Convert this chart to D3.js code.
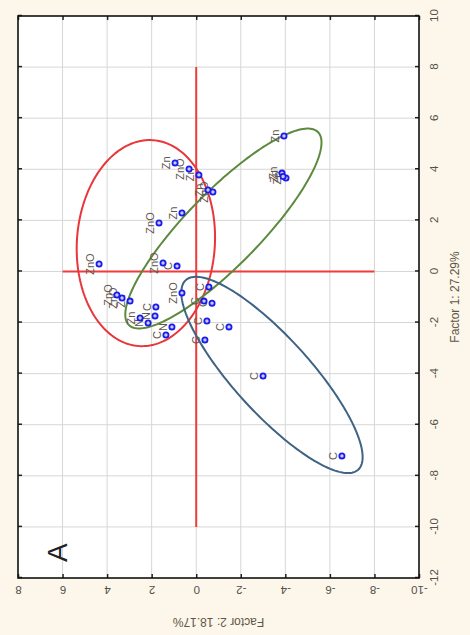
<!DOCTYPE html>
<html>
<head>
<meta charset="utf-8">
<script src="https://cdn.jsdelivr.net/npm/d3@7"></script>
<style>
  html, body { margin: 0; padding: 0; background: #fcf7ea; }
  svg { display: block; }
</style>
</head>
<body>
<svg id="chart" width="470" height="635"></svg>
<script>
// Factor scores of the samples (Factor 1 / Factor 2) and their group labels
const sampleLabels = [
  "Zn", "Zn", "Zn", "Zn",
  "Zn", "ZnO", "Zn", "Zn", "ZnO",
  "Zn", "ZnO", "ZnO", "ZnO", "C", "ZnO",
  "C", "C", "C", "C", "C", "C", "C", "C",
  "ZnO", "Zn", "ZnO", "C", "N", "N", "N", "C", "Zn"
];
const factor1Scores = [
  5.30, 3.85, 3.66, 3.72,
  4.25, 4.01, 3.78, 3.19, 3.11,
  2.29, 1.90, 0.29, 0.33, 0.21, -0.84,
  -0.61, -1.16, -1.24, -1.94, -2.17, -2.68, -4.09, -7.22,
  -1.04, -1.16, -0.92, -1.39, -1.74, -2.02, -2.17, -2.49, -1.82
];
const factor2Scores = [
  -3.94, -3.85, -4.03, -3.90,
  0.95, 0.32, -0.12, -0.53, -0.75,
  0.64, 1.67, 4.36, 1.49, 0.86, 0.64,
  -0.57, -0.35, -0.71, -0.48, -1.47, -0.39, -3.00, -6.54,
  3.33, 2.97, 3.56, 1.81, 1.85, 2.16, 1.09, 1.36, 2.52
];

// Group ellipses: centre and two conjugate semi-axes, in factor units
const ellipseGroups = ["ZnO", "Zn", "C"];
const ellipseCenterF1 = [1.11, 1.68, -4.05];
const ellipseCenterF2 = [2.26, -1.22, -3.40];
const ellipseAxisAF1 = [4.03, 3.78, -3.71];
const ellipseAxisAF2 = [-0.31, -4.24, -3.87];
const ellipseAxisBF1 = [-0.18, -1.01, 1.00];
const ellipseAxisBF2 = [-3.09, -1.19, -1.26];

// Reference cross through the origin
const crossSpanF1 = [-10, 8];
const crossSpanF2 = [-8, 6];

// Axes
const factor1Ticks = [-12, -10, -8, -6, -4, -2, 0, 2, 4, 6, 8, 10];
const factor2Ticks = [-10, -8, -6, -4, -2, 0, 2, 4, 6, 8];
const factor1Title = "Factor 1: 27.29%";
const factor2Title = "Factor 2: 18.17%";
const panelLetter = "A";

// ---- layout: the plot is drawn in its own frame and turned a quarter turn ----
const W = 562;   // length of the Factor 1 axis
const H = 401;   // length of the Factor 2 axis
const FONT = "Arial, 'Liberation Sans', sans-serif";
const svg = d3.select("#chart");
const g = svg.append("g").attr("transform", "translate(18,578) rotate(-90)");

const x = d3.scaleLinear().domain([-12, 10]).range([0, W]);
const y = d3.scaleLinear().domain([-10, 8]).range([H, 0]);

g.append("rect").attr("width", W).attr("height", H).attr("fill", "#ffffff");

// grid
g.append("g").selectAll("line").data(factor1Ticks.slice(1, -1)).join("line")
  .attr("x1", d => x(d)).attr("x2", d => x(d)).attr("y1", 0).attr("y2", H)
  .attr("stroke", "#d6d6d6").attr("stroke-width", 1);
g.append("g").selectAll("line").data(factor2Ticks.slice(1, -1)).join("line")
  .attr("y1", d => y(d)).attr("y2", d => y(d)).attr("x1", 0).attr("x2", W)
  .attr("stroke", "#d6d6d6").attr("stroke-width", 1);

// axes
const fmt = d => String(d);
const axB = g.append("g").attr("transform", `translate(0,${H})`)
  .call(d3.axisBottom(x).tickValues(factor1Ticks).tickFormat(fmt).tickSize(-4).tickPadding(10));
const axL = g.append("g")
  .call(d3.axisLeft(y).tickValues(factor2Ticks).tickFormat(fmt).tickSize(-4));
const axT = g.append("g")
  .call(d3.axisTop(x).tickValues(factor1Ticks).tickFormat("").tickSize(-4));
const axR = g.append("g").attr("transform", `translate(${W},0)`)
  .call(d3.axisRight(y).tickValues(factor2Ticks).tickFormat("").tickSize(-4));

[axB, axL, axT, axR].forEach(a => {
  a.select(".domain").remove();
  a.selectAll(".tick line").attr("stroke", "#222").attr("stroke-width", 1.5);
  a.selectAll("text").attr("fill", "#55504a").attr("font-family", FONT).attr("font-size", 11.5);
});
axB.selectAll(".tick text").attr("dy", null).attr("y", 15).attr("dominant-baseline", "central");
axL.selectAll(".tick text")
  .attr("x", 0).attr("dy", null).attr("text-anchor", "middle")
  .attr("dominant-baseline", "central")
  .attr("transform", "translate(-12,0) rotate(-90)");

// reference cross
g.append("line")
  .attr("x1", x(crossSpanF1[0])).attr("x2", x(crossSpanF1[1]))
  .attr("y1", y(0)).attr("y2", y(0))
  .attr("stroke", "#ef3b3b").attr("stroke-width", 2);
g.append("line")
  .attr("x1", x(0)).attr("x2", x(0))
  .attr("y1", y(crossSpanF2[0])).attr("y2", y(crossSpanF2[1]))
  .attr("stroke", "#ef3b3b").attr("stroke-width", 2);

// group ellipses
const ellipseStroke = { "ZnO": "#e8363b", "Zn": "#5b8a3d", "C": "#3f6383" };
const steps = d3.range(0, 2 * Math.PI, Math.PI / 90);
const ellipseLine = d3.line().curve(d3.curveLinearClosed);
ellipseGroups.forEach((grp, i) => {
  const pts = steps.map(t => [
    x(ellipseCenterF1[i] + ellipseAxisAF1[i] * Math.cos(t) + ellipseAxisBF1[i] * Math.sin(t)),
    y(ellipseCenterF2[i] + ellipseAxisAF2[i] * Math.cos(t) + ellipseAxisBF2[i] * Math.sin(t))
  ]);
  g.append("path").attr("d", ellipseLine(pts))
    .attr("fill", "none").attr("stroke", ellipseStroke[grp]).attr("stroke-width", 2);
});

// samples
const samples = sampleLabels.map((lab, i) => ({ lab, f1: factor1Scores[i], f2: factor2Scores[i] }));
g.append("g").selectAll("text").data(samples).join("text")
  .attr("x", d => x(d.f1)).attr("y", d => y(d.f2) - 5)
  .attr("text-anchor", "middle")
  .attr("font-family", FONT).attr("font-size", 11)
  .attr("fill", "#5f564e")
  .text(d => d.lab);
g.append("g").selectAll("circle").data(samples).join("circle")
  .attr("cx", d => x(d.f1)).attr("cy", d => y(d.f2)).attr("r", 2.6)
  .attr("fill", "#c9c9ff").attr("stroke", "#1c1ce8").attr("stroke-width", 1.8);

// frame
g.append("rect").attr("width", W).attr("height", H)
  .attr("fill", "none").attr("stroke", "#111").attr("stroke-width", 1.6);

// titles
g.append("text")
  .attr("x", W / 2).attr("y", H + 36).attr("text-anchor", "middle").attr("dominant-baseline", "central")
  .attr("font-family", FONT).attr("font-size", 12).attr("fill", "#5e5648")
  .text(factor1Title);
g.append("text")
  .attr("transform", `translate(-44,${H / 2}) rotate(-90)`)
  .attr("text-anchor", "middle").attr("dominant-baseline", "central")
  .attr("font-family", FONT).attr("font-size", 12).attr("fill", "#5e5648")
  .text(factor2Title);

// panel letter
g.append("text")
  .attr("x", 16).attr("y", 49)
  .attr("font-family", FONT).attr("font-size", 28).attr("fill", "#222")
  .text(panelLetter);
</script>
</body>
</html>
